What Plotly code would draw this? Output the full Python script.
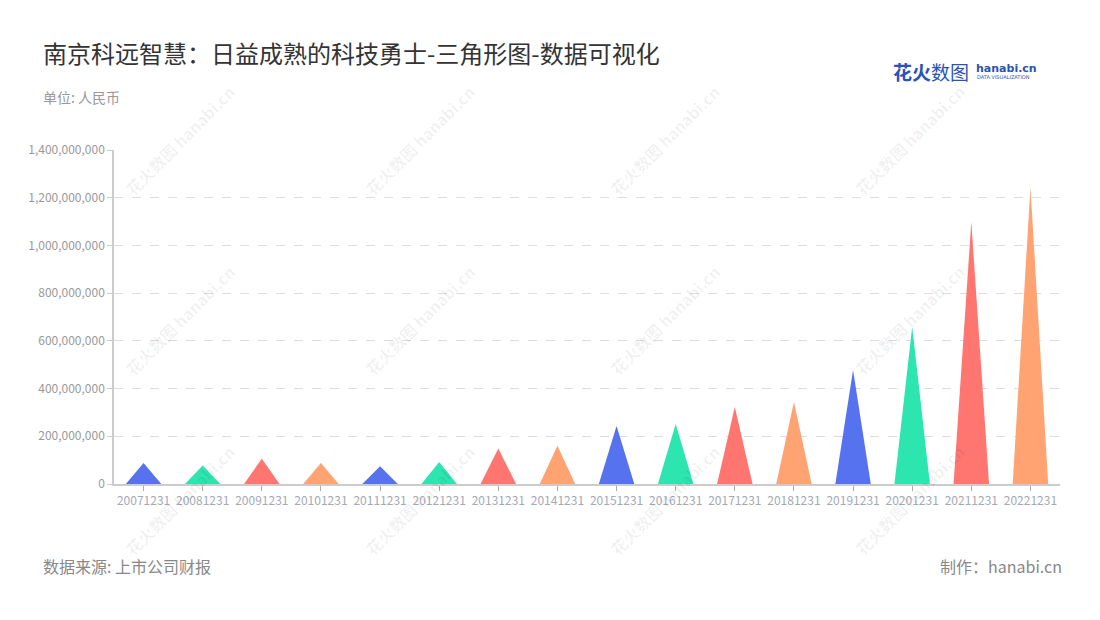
import plotly.graph_objects as go

categories = ["20071231", "20081231", "20091231", "20101231", "20111231", "20121231",
              "20131231", "20141231", "20151231", "20161231", "20171231", "20181231",
              "20191231", "20201231", "20211231", "20221231"]
values = [88e6, 78e6, 106e6, 88e6, 74e6, 92e6, 149e6, 160e6,
          243e6, 251e6, 323e6, 344e6, 478e6, 659e6, 1099e6, 1244e6]
palette = ["#5772EE", "#2DE6AF", "#FF7570", "#FFA373"]
ytick_vals = [0, 200e6, 400e6, 600e6, 800e6, 1000e6, 1200e6, 1400e6]
ytick_text = ["0", "200,000,000", "400,000,000", "600,000,000", "800,000,000",
              "1,000,000,000", "1,200,000,000", "1,400,000,000"]

FONT = "Noto Sans CJK SC"
half_w = 0.3

fig = go.Figure()
for i, (cat, v) in enumerate(zip(categories, values)):
    c = palette[i % len(palette)]
    fig.add_trace(go.Scatter(
        x=[i - half_w, i, i + half_w, i - half_w],
        y=[0, v, 0, 0],
        mode="lines", fill="toself", fillcolor=c,
        line=dict(width=0, color=c),
        name=cat, hoverinfo="text", text=f"{cat}: {v:,.0f}",
        showlegend=False,
    ))

# watermarks
for wx in [0.07, 0.3235, 0.5825, 0.841]:
    for wy in [1.03, 0.491, -0.048]:
        fig.add_annotation(
            xref="paper", yref="paper", x=wx, y=wy, xanchor="center", yanchor="middle",
            text="<b>花火数图</b> <b>hanabi.cn</b>", showarrow=False, textangle=-45,
            font=dict(family=FONT, size=16, color="rgba(0,0,0,0.06)"),
        )

fig.update_layout(
    width=1100, height=620,
    margin=dict(l=106, r=48, t=142, b=144),
    paper_bgcolor="white", plot_bgcolor="white",
    font=dict(family=FONT, color="#999999"),
    xaxis=dict(
        range=[-0.5, 15.5], tickmode="array",
        tickvals=list(range(len(categories))), ticktext=categories,
        showgrid=False, zeroline=False,
        showline=True, linecolor="#cccccc", linewidth=1.5,
        ticks="outside", ticklen=5, tickcolor="#aaaaaa",
        tickfont=dict(family=FONT, size=12, color="#A3A9B5"),
        fixedrange=True,
    ),
    yaxis=dict(
        range=[0, 1400e6], tickmode="array", tickvals=ytick_vals, ticktext=ytick_text,
        showgrid=True, gridcolor="#dddddd", griddash="dash", gridwidth=1,
        zeroline=False,
        showline=True, linecolor="#cccccc", linewidth=1.5,
        ticks="outside", ticklen=5, tickcolor="#cccccc",
        tickfont=dict(family=FONT, size=12, color="#999999"),
        fixedrange=True,
    ),
)

fig.add_annotation(xref="paper", yref="paper", x=-0.0775, y=1.291,
                   xanchor="left", yanchor="middle", showarrow=False,
                   text="南京科远智慧：日益成熟的科技勇士-三角形图-数据可视化",
                   font=dict(family=FONT, size=24, color="#333333"))
fig.add_annotation(xref="paper", yref="paper", x=-0.0775, y=1.16,
                   xanchor="left", yanchor="middle", showarrow=False,
                   text="单位: 人民币",
                   font=dict(family=FONT, size=14, color="#999999"))
fig.add_annotation(xref="paper", yref="paper", x=-0.0775, y=-0.247,
                   xanchor="left", yanchor="middle", showarrow=False,
                   text="数据来源: 上市公司财报",
                   font=dict(family=FONT, size=16, color="#888888"))
fig.add_annotation(xref="paper", yref="paper", x=1.004, y=-0.247,
                   xanchor="right", yanchor="middle", showarrow=False,
                   text="制作：hanabi.cn",
                   font=dict(family=FONT, size=16, color="#888888"))
# logo
fig.add_annotation(xref="paper", yref="paper", x=0.8215, y=1.2365,
                   xanchor="left", yanchor="middle", showarrow=False,
                   text="<b>花火</b>数图",
                   font=dict(family=FONT, size=19, color="#2B52B5"))
fig.add_annotation(xref="paper", yref="paper", x=0.909, y=1.2455,
                   xanchor="left", yanchor="middle", showarrow=False,
                   text="<b>hanabi.cn</b>",
                   font=dict(family="DejaVu Sans", size=11, color="#2B52B5"))
fig.add_annotation(xref="paper", yref="paper", x=0.910, y=1.2186,
                   xanchor="left", yanchor="middle", showarrow=False,
                   text="DATA VISUALIZATION",
                   font=dict(family="DejaVu Sans", size=5, color="#2B52B5"))

fig.write_html("out.html")
